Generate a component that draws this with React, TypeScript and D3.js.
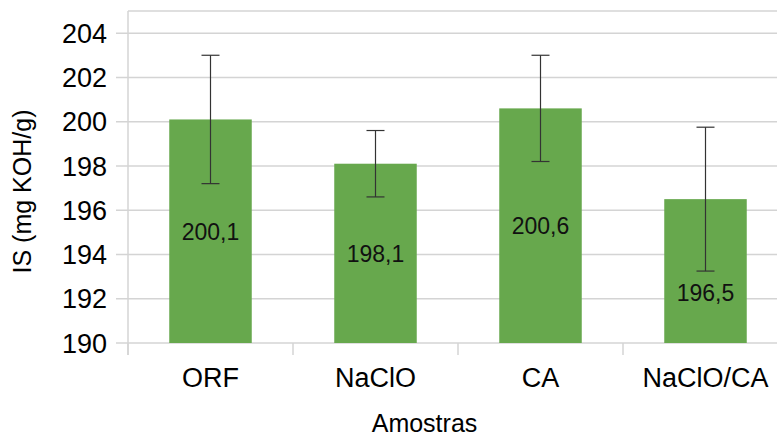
import React from "react";
import * as d3 from "d3";

const categories = ["ORF", "NaClO", "CA", "NaClO/CA"];
const values = [200.1, 198.1, 200.6, 196.5];
const errLow = [197.2, 196.6, 198.2, 193.25];
const errHigh = [203.0, 199.6, 203.0, 199.75];
const valueLabels = ["200,1", "198,1", "200,6", "196,5"];
const yTicks = [190, 192, 194, 196, 198, 200, 202, 204];
const labelShift = [0, 0, 0, 22];

const W = 777;
const H = 436;
const FONT = "'Liberation Sans', Arial, sans-serif";

export default function App() {
  const x = d3.scaleBand<string>().domain(categories).range([128, 788]).padding(0);
  const y = d3.scaleLinear().domain([190, 205]).range([343, 11]);
  const bw = x.bandwidth() * 0.5;
  const grid = "#d4d4d4";
  const tickEdges = [...categories.map((c) => x(c)!), 788];

  return (
    <svg
      width={W}
      height={H}
      style={{ position: "absolute", left: 0, top: 0, background: "#fff" }}
      fontFamily={FONT}
    >
      {/* top frame */}
      <line x1={128} x2={788} y1={y(205)} y2={y(205)} stroke={grid} strokeWidth={1.5} />
      {yTicks.map((t) => (
        <g key={t}>
          <line x1={116} x2={788} y1={y(t)} y2={y(t)} stroke={grid} strokeWidth={1.5} />
          <text x={107} y={y(t)} dy="0.36em" textAnchor="end" fontSize={27} fill="#000">
            {t}
          </text>
        </g>
      ))}
      {/* left axis line */}
      <line x1={128} x2={128} y1={11} y2={355} stroke={grid} strokeWidth={1.5} />
      {tickEdges.map((e, i) => (
        <line key={i} x1={e} x2={e} y1={343} y2={355} stroke={grid} strokeWidth={1.5} />
      ))}
      {categories.map((c, i) => {
        const cx = x(c)! + x.bandwidth() / 2;
        const top = y(values[i]);
        const bottom = y(190);
        return (
          <g key={c}>
            <rect x={cx - bw / 2} y={top} width={bw} height={bottom - top} fill="#67a84d" />
            <line x1={cx} x2={cx} y1={y(errHigh[i])} y2={y(errLow[i])} stroke="#333" strokeWidth={1.2} />
            <line x1={cx - 9} x2={cx + 9} y1={y(errHigh[i])} y2={y(errHigh[i])} stroke="#333" strokeWidth={1.2} />
            <line x1={cx - 9} x2={cx + 9} y1={y(errLow[i])} y2={y(errLow[i])} stroke="#333" strokeWidth={1.2} />
            <text
              x={cx}
              y={(top + bottom) / 2 + labelShift[i]}
              dy="0.36em"
              textAnchor="middle"
              fontSize={23}
              fill="#111"
            >
              {valueLabels[i]}
            </text>
            <text x={cx} y={387} textAnchor="middle" fontSize={27} fill="#000">
              {c}
            </text>
          </g>
        );
      })}
      <text x={424.5} y={432} textAnchor="middle" fontSize={25} fill="#000">
        Amostras
      </text>
      <text
        transform={`translate(31,191.5) rotate(-90)`}
        textAnchor="middle"
        fontSize={25}
        fill="#000"
      >
        IS (mg KOH/g)
      </text>
    </svg>
  );
}
